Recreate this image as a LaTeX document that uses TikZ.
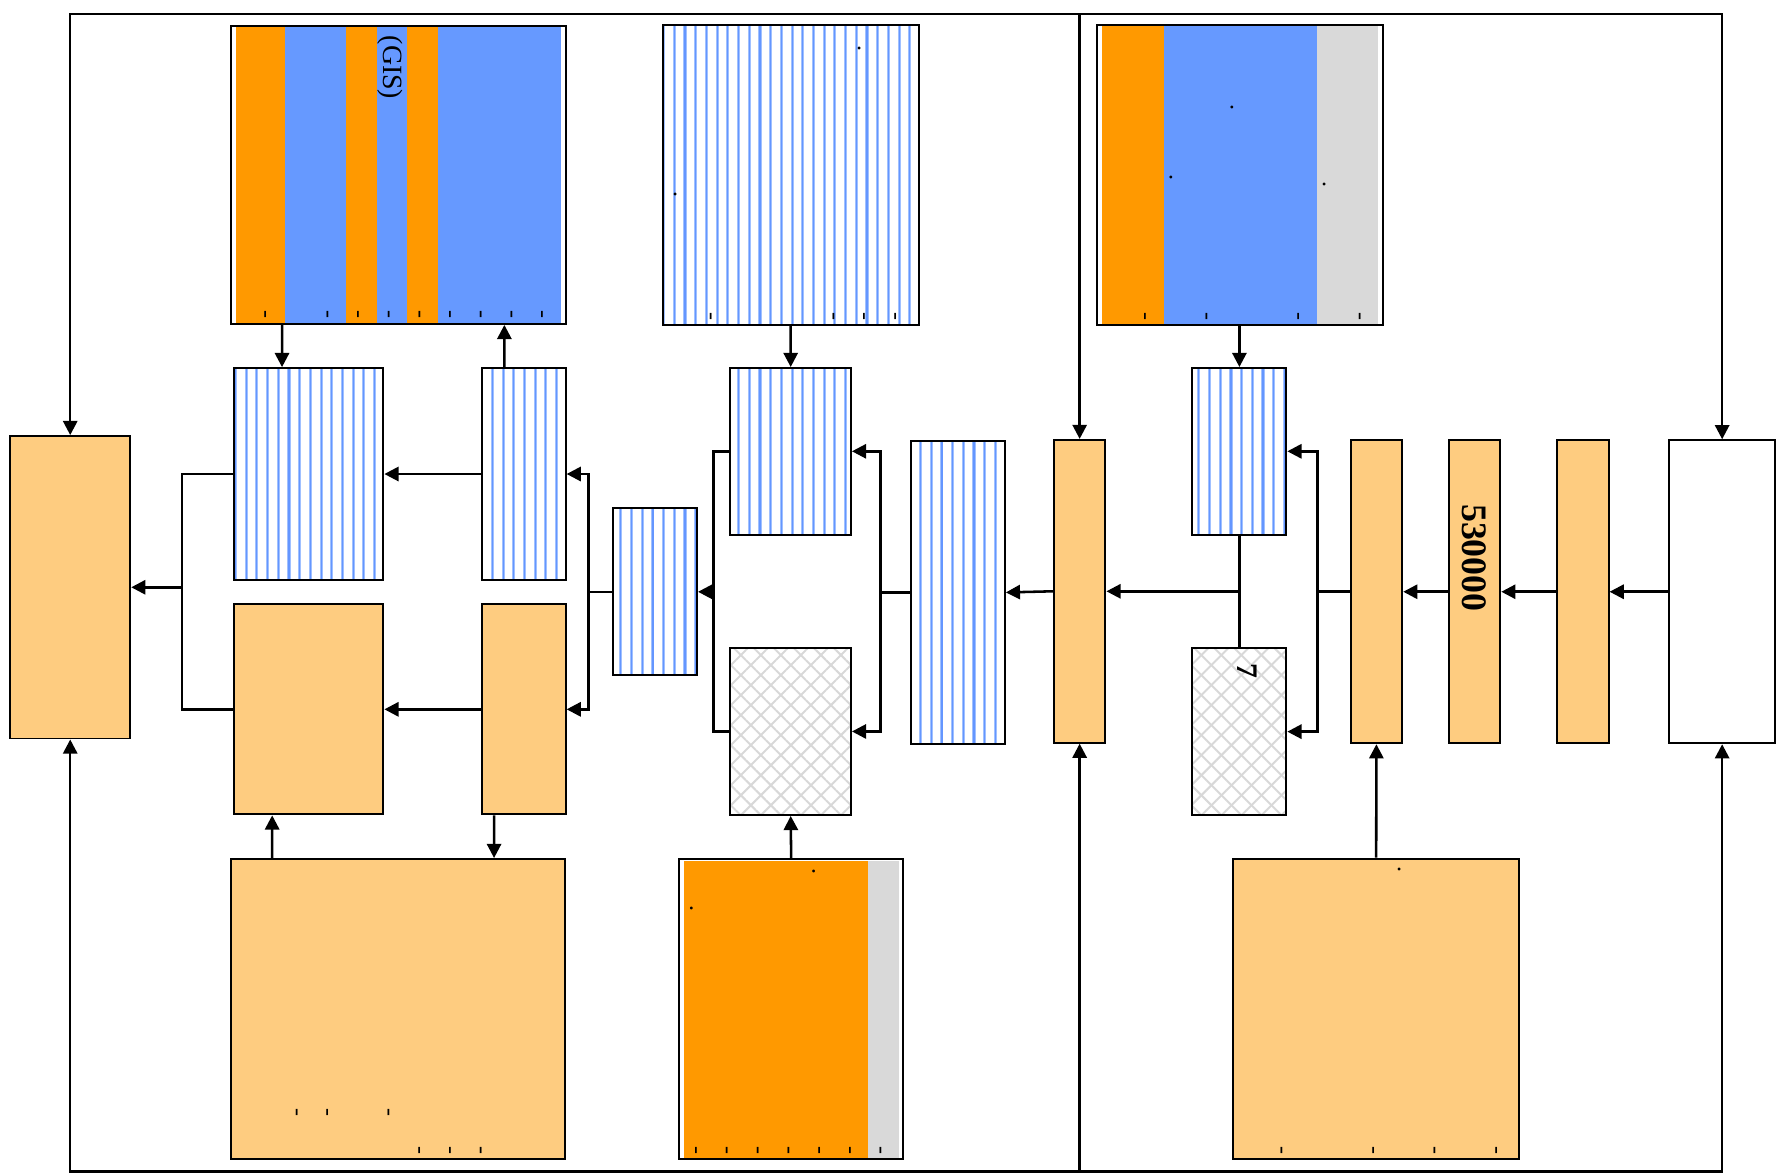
\documentclass[tikz,border=0pt]{standalone}
\usepackage{fontspec}
\setmainfont{Liberation Serif}
\usetikzlibrary{arrows.meta,patterns.meta}
\definecolor{peach}{RGB}{254,204,128}
\definecolor{orng}{RGB}{255,153,0}
\definecolor{skyb}{RGB}{102,153,255}
\definecolor{lgray}{RGB}{217,217,217}
\definecolor{stripec}{RGB}{100,150,255}
\definecolor{stripel}{RGB}{160,192,255}
\definecolor{hatchc}{RGB}{216,216,216}

\begin{document}
\begin{tikzpicture}[x=0.2mm,y=-0.2mm,
  blk/.style={draw,line width=0.35mm,inner sep=0pt},
  peachbox/.style={blk,fill=peach},
  stripebox/.style={blk,preaction={pattern={Lines[angle=90,distance=1.89mm,line width=0.55mm]},pattern color=stripel},
    pattern={Lines[angle=90,distance=1.89mm,line width=0.2mm]},pattern color=stripec},
  hatchbox/.style={blk,preaction={pattern={Lines[angle=45,distance=2.5mm,line width=0.35mm]},pattern color=hatchc},
    pattern={Lines[angle=-45,distance=2.5mm,line width=0.35mm]},pattern color=hatchc},
  con/.style={line width=0.45mm},
  arr/.style={line width=0.45mm,-{Triangle[length=2.5mm,width=2.5mm]}},
  glyph/.style={rotate=-90,inner sep=0pt,font=\fontsize{12}{14}\selectfont}]
\useasboundingbox (0,0) rectangle (1568,1038);

% coloured bands behind the three framed boxes
\foreach \a/\b/\col in {208.4/251.6/orng,251.6/305.5/skyb,305.5/333.1/orng,333.1/359.6/skyb,359.6/386.7/orng,386.7/495/skyb}
  \fill[\col] (\a,23.6) rectangle (\b,285.2);
\foreach \a/\b/\col in {972.9/1027.4/orng,1027.4/1162.7/skyb,1162.7/1216.3/lgray}
  \fill[\col] (\a,23) rectangle (\b,286.3);
\foreach \a/\b/\col in {604.1/766.1/orng,766.1/793.7/lgray}
  \fill[\col] (\a,760.1) rectangle (\b,1022.6);

% top and bottom row
\node[blk,minimum width=59.08mm,minimum height=52.66mm] (gisbox) at (351.7,154.35) {};
\node[stripebox,minimum width=45.2mm,minimum height=53.04mm] (topmid) at (698,154.6) {};
\node[blk,minimum width=50.62mm,minimum height=53mm] (topright) at (1094.75,154.5) {};
\node[peachbox,minimum width=58.94mm,minimum height=53.02mm] (botleft) at (351.45,890.95) {};
\node[blk,minimum width=39.64mm,minimum height=53.02mm] (botmid) at (698.5,890.95) {};
\node[peachbox,minimum width=50.4mm,minimum height=53.08mm] (botright) at (1215,890.8) {};

% middle row
\node[peachbox,minimum width=21.2mm,minimum height=53.4mm] (out) at (62,518.5) {};
\node[stripebox,minimum width=26.42mm,minimum height=37.4mm] (s1) at (272.45,418.5) {};
\node[peachbox,minimum width=26.42mm,minimum height=37.1mm] (o1) at (272.45,626.25) {};
\node[stripebox,minimum width=14.74mm,minimum height=37.4mm] (s2) at (462.55,418.5) {};
\node[peachbox,minimum width=14.74mm,minimum height=37.1mm] (o2) at (462.55,626.25) {};
\node[stripebox,minimum width=14.84mm,minimum height=29.48mm] (s3) at (578.3,522.5) {};
\node[stripebox,minimum width=21.28mm,minimum height=29.42mm] (s4) at (698.1,398.45) {};
\node[hatchbox,minimum width=21.28mm,minimum height=29.48mm] (x1) at (698.1,645.8) {};
\node[stripebox,minimum width=16.54mm,minimum height=53.5mm] (s5) at (845.85,523.05) {};
\node[peachbox,minimum width=9.12mm,minimum height=53.46mm] (o3) at (953.2,522.05) {};
\node[stripebox,minimum width=16.58mm,minimum height=29.42mm] (s6) at (1094.25,398.45) {};
\node[hatchbox,minimum width=16.58mm,minimum height=29.54mm] (x2) at (1094.25,645.95) {};
\node[peachbox,minimum width=9.12mm,minimum height=53.5mm] (o4) at (1215.2,522.45) {};
\node[peachbox,minimum width=9.12mm,minimum height=53.5mm] (o5) at (1301.8,522.45) {};
\node[peachbox,minimum width=9.18mm,minimum height=53.5mm] (o6) at (1397.25,522.45) {};
\node[blk,fill=white,minimum width=18.62mm,minimum height=53.5mm] (inp) at (1520.45,522.45) {};

% texts
\node[rotate=-90,font=\fontsize{14}{16}\selectfont] at (344.3,59.6) {(GIS)};
\node[rotate=-90,font=\fontsize{18}{20}\selectfont\bfseries] at (1301.8,492.5) {530000};
\node[rotate=-90,font=\fontsize{15}{17}\selectfont\bfseries] at (1101.3,592.3) {7};
\foreach \x in {234.2,289,316,343.2,370.2,397.3,424.4,451.4,478.5}
  \node[glyph] at (\x-2,278) {-};
\foreach \x in {627.4,735.7,762.8,790.2,1010.9,1065,1146.2,1200.4}
  \node[glyph] at (\x-2,279) {-};
\foreach \x in {262,288.8,342.8}
  \node[glyph] at (\x-2,982) {-};
\foreach \x in {370,397.2,424.4,614.4,641.6,668.8,696,723.1,750.3,777.2,1131.4,1212.3,1266.4,1320.8}
  \node[glyph] at (\x-2,1015.3) {-};
\foreach \x/\y in {758.6/42.7,596.2/171.6,1087.7/94.7,1033.8/156.5,1169.2/163.3,718.5/769.2,610.4/801.9,1235.4/767.5}
  \node[glyph] at (\x,\y) {.};

% right half
\draw[arr] (inp.west) -- (o6.east);
\draw[arr] (o6.west) -- (o5.east);
\draw[arr] (o5.west) -- (o4.east);
\draw[con] (o4.west) -- ++(-28.2,0) coordinate (fk1);
\draw[arr] (fk1) |- (s6.east);
\draw[arr] (fk1) |- (x2.east);
\draw[con] (s6.south) -- (x2.north);
\draw[arr] (s6.south |- o3.east) -- (o3.east);
\draw[arr] (s6.north |- topright.south) -- (s6.north);
\draw[arr] (botright.north) -- (o4.south);

% middle
\draw[arr] (o3.west) -- (s5.east);
\draw[con] (s5.west) -- ++(-26.4,0) coordinate (fk2);
\draw[arr] (fk2) |- (s4.east);
\draw[arr] (fk2) |- (x1.east);
\coordinate (jn2) at (630,522.5);
\draw[con] (s4.west) -| (jn2);
\draw[con] (x1.west) -| (jn2);
\draw[arr] (jn2) -- (s3.east);
\draw[arr] (topmid.south) -- (s4.north);
\draw[arr] (botmid.north) -- (x1.south);

% left half
\draw[con] (s3.west) -- ++(-20.9,0) coordinate (fk3);
\draw[arr] (fk3) |- (s2.east);
\draw[arr] (fk3) |- (o2.east);
\draw[arr] (s2.west) -- (s1.east);
\draw[arr] (o2.west) -- (o1.east);
\coordinate (jn1) at (160.5,518.5);
\draw[con] (s1.west) -| (jn1);
\draw[con] (o1.west) -| (jn1);
\draw[arr] (jn1) -- (out.east);
\draw[arr] ([xshift=-20.54mm]gisbox.south) -- ([xshift=-4.69mm]s1.north);
\draw[arr] ([xshift=-3.45mm]s2.north) -- ([xshift=18.72mm]gisbox.south);
\draw[arr] ([xshift=-22.23mm]botleft.north) -- ([xshift=-6.43mm]o1.south);
\draw[arr] ([xshift=-5.27mm]o2.south) -- ([xshift=16.95mm]botleft.north);

% outer frame
\coordinate (tb) at (0,12.5);
\coordinate (bb) at (0,1034.5);
\draw[arr] (o3.north |- tb) -| (out.north);
\draw[arr] (o3.north |- tb) -| (inp.north);
\draw[arr] (o3.north |- tb) -- (o3.north);
\draw[arr] (o3.south |- bb) -| (out.south);
\draw[arr] (o3.south |- bb) -| (inp.south);
\draw[arr] (o3.south |- bb) -- (o3.south);
\end{tikzpicture}
\end{document}
